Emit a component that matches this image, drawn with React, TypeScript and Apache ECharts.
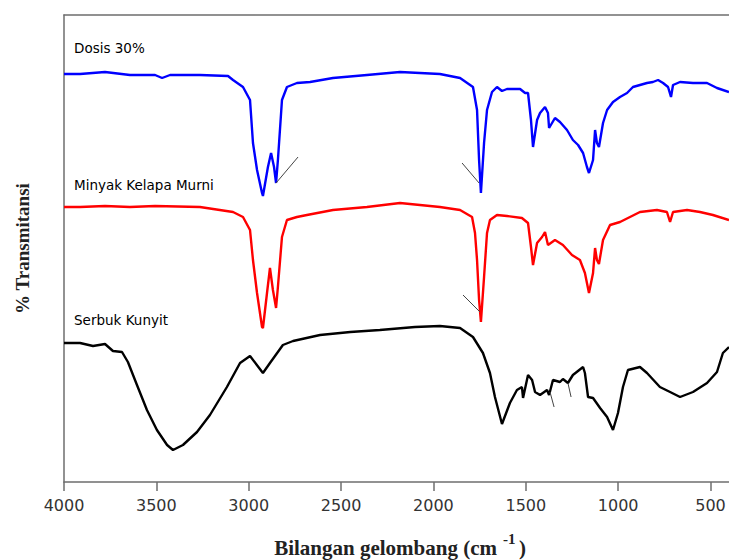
import React, { useEffect, useRef } from "react";
import * as echarts from "echarts";

// Wavenumber (cm-1) and relative transmittance readings for each spectrum
const dosisWn = [4000,3913,3778,3643,3507,3469,3426,3264,3112,3085,3031,2993,2977,2955,2928,2923,2896,2879,2863,2852,2842,2820,2793,2739,2668,2544,2360,2181,1965,1856,1786,1764,1753,1743,1726,1710,1683,1656,1629,1602,1531,1504,1488,1472,1461,1439,1423,1396,1380,1374,1342,1315,1277,1245,1217,1190,1169,1158,1136,1125,1115,1104,1082,1060,1028,990,952,920,882,844,812,784,757,730,714,703,665,595,519,465,400];
const dosisT = [406,406,408,405,405,402,405,405,404,400,393,380,337,310,287,284,313,327,313,297,320,380,393,397,398,402,405,408,406,402,393,370,320,287,337,370,388,393,389,391,391,387,387,360,333,360,367,373,367,352,362,358,350,340,335,327,313,307,320,350,337,333,357,370,378,383,387,393,395,397,398,400,397,393,383,395,398,397,397,392,388];

const minyakWn = [4000,3913,3778,3643,3507,3264,3085,3031,2993,2977,2955,2928,2923,2901,2885,2869,2852,2842,2820,2793,2739,2685,2544,2360,2181,1965,1856,1791,1775,1764,1753,1743,1726,1710,1694,1656,1602,1521,1488,1472,1461,1439,1412,1396,1380,1342,1299,1250,1207,1180,1158,1136,1125,1115,1104,1082,1044,990,936,882,790,736,719,703,627,557,487,400];
const minyakT = [273,273,274,273,274,273,268,263,250,220,187,153,152,187,212,190,172,193,243,260,263,265,270,273,277,273,270,263,247,220,180,158,203,247,260,265,264,262,257,233,215,237,243,248,235,240,235,225,220,207,187,207,232,220,216,240,255,258,263,268,270,268,258,268,270,268,265,260];

const serbukWn = [4000,3913,3843,3778,3735,3686,3654,3605,3551,3497,3442,3410,3356,3280,3210,3118,3047,2993,2923,2885,2815,2760,2614,2450,2290,2100,1965,1856,1786,1732,1694,1667,1629,1586,1548,1521,1515,1488,1466,1450,1423,1385,1374,1353,1315,1299,1272,1245,1190,1180,1163,1136,1098,1060,1028,1001,974,947,882,844,774,719,665,595,519,465,433,400];
const serbukT = [137,137,134,136,129,128,118,95,70,50,35,30,35,48,65,93,117,124,107,117,135,139,145,148,150,153,154,152,143,127,107,83,56,77,90,93,82,105,100,88,85,90,85,100,98,101,97,105,113,107,83,82,72,63,50,67,93,110,113,107,93,88,83,88,97,108,127,133];

const seriesNames = ["Dosis 30%", "Minyak Kelapa Murni", "Serbuk Kunyit"];
const tickValues = [4000, 3500, 3000, 2500, 2000, 1500, 1000, 500];
const xTitleParts = ["Bilangan gelombang (cm", "-1", ")"];

// Peak pointer lines (wavenumber, transmittance) pairs
const dosisPointers = [[[2852, 297], [2733, 323]], [[1845, 317], [1753, 297]]];
const minyakPointers = [[[1840, 185], [1748, 168]]];
const serbukPointers = [[[1369, 88], [1347, 73]], [[1272, 97], [1255, 83]]];

const zip = (xs: number[], ys: number[]) => xs.map((x, i) => [x, ys[i]]);
const pointerData = (p: number[][][]) =>
  p.map(([a, b]) => [{ coord: a }, { coord: b }]);

export default function App() {
  const ref = useRef<HTMLDivElement>(null);
  useEffect(() => {
    if (!ref.current) return;
    const chart = echarts.init(ref.current, null, { renderer: "svg" });
    const axisColor = "#6e6e6e";
    const pointerLine = {
      silent: true,
      symbol: ["none", "none"],
      lineStyle: { color: "#444", width: 1, type: "solid" },
      label: { show: false },
      emphasis: { disabled: true },
    };
    const mk = (name: string, wn: number[], t: number[], color: string, ptr: number[][][]) => ({
      name,
      type: "line",
      data: zip(wn, t),
      showSymbol: false,
      symbol: "none",
      lineStyle: { color, width: 2.4 },
      itemStyle: { color },
      markLine: { ...pointerLine, data: pointerData(ptr) },
    });
    const labelFont = "13.5px 'DejaVu Sans'";
    const titleFont = "bold 21px 'Liberation Serif'";
    chart.setOption({
      animation: false,
      backgroundColor: "#ffffff",
      grid: { left: 64, right: 0, top: 15, bottom: 78 },
      xAxis: [
        {
          type: "value",
          inverse: true,
          min: 400,
          max: 4000,
          axisLine: { show: true, onZero: false, lineStyle: { color: axisColor, width: 1.5 } },
          axisTick: {
            show: true,
            length: 9,
            customValues: tickValues,
            lineStyle: { color: axisColor, width: 1.5 },
          },
          axisLabel: {
            customValues: tickValues,
            formatter: (v: number) => String(v),
            fontFamily: "DejaVu Sans",
            fontSize: 16,
            color: "#333",
            margin: 15,
            hideOverlap: false,
          },
          splitLine: { show: false },
        },
        {
          type: "value",
          position: "top",
          inverse: true,
          min: 400,
          max: 4000,
          axisLine: { show: true, onZero: false, lineStyle: { color: axisColor, width: 1.5 } },
          axisTick: { show: false },
          axisLabel: { show: false },
          splitLine: { show: false },
        },
      ],
      yAxis: {
        type: "value",
        min: -2,
        max: 465,
        name: "% Transmitansi",
        nameLocation: "middle",
        nameGap: 32,
        nameTextStyle: {
          fontFamily: "Liberation Serif",
          fontWeight: "bold",
          fontSize: 19,
          color: "#222",
        },
        axisLine: { show: true, lineStyle: { color: axisColor, width: 1.5 } },
        axisTick: { show: false },
        axisLabel: { show: false },
        splitLine: { show: false },
      },
      series: [
        mk(seriesNames[0], dosisWn, dosisT, "#0000ff", dosisPointers),
        mk(seriesNames[1], minyakWn, minyakT, "#ff0000", minyakPointers),
        mk(seriesNames[2], serbukWn, serbukT, "#000000", serbukPointers),
      ],
      graphic: [
        {
          type: "text",
          x: 74,
          y: 48,
          style: { text: seriesNames[0], fill: "#000", font: labelFont, verticalAlign: "middle" },
        },
        {
          type: "text",
          x: 74,
          y: 185,
          style: { text: seriesNames[1], fill: "#000", font: labelFont, verticalAlign: "middle" },
        },
        {
          type: "text",
          x: 74,
          y: 320,
          style: { text: seriesNames[2], fill: "#000", font: labelFont, verticalAlign: "middle" },
        },
        {
          type: "text",
          x: 497,
          y: 548,
          style: { text: xTitleParts[0], fill: "#222", font: titleFont, align: "right", verticalAlign: "middle" },
        },
        {
          type: "text",
          x: 503,
          y: 539,
          style: { text: xTitleParts[1], fill: "#222", font: "bold 15px 'Liberation Serif'", align: "left", verticalAlign: "middle" },
        },
        {
          type: "text",
          x: 519,
          y: 548,
          style: { text: xTitleParts[2], fill: "#222", font: titleFont, align: "left", verticalAlign: "middle" },
        },
      ],
    });
    return () => chart.dispose();
  }, []);
  return <div ref={ref} style={{ width: 729, height: 560, position: "absolute", left: 0, top: 0 }} />;
}
